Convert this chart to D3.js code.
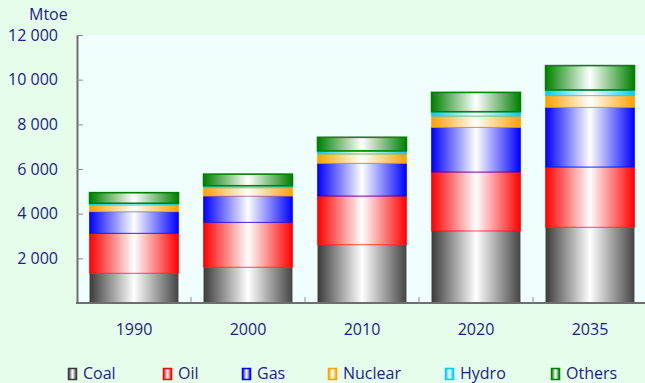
<!DOCTYPE html>
<html>
<head>
<meta charset="utf-8">
<script src="https://cdn.jsdelivr.net/npm/d3@7"></script>
<style>
  body { margin: 0; background: #e6fdeb; }
  svg { display: block; }
  text { font-family: "Open Sans", "DejaVu Sans", sans-serif; fill: #1c1c8a; }
</style>
</head>
<body>
<div id="chart"></div>
<script>
// data (Mtoe)
var years = ["1990", "2000", "2010", "2020", "2035"];
var coal    = [1330, 1600, 2610, 3225, 3390];
var oil     = [1790, 2010, 2180, 2640, 2700];
var gas     = [970, 1180, 1465, 2000, 2670];
var nuclear = [300, 370, 420, 505, 525];
var hydro   = [75, 90, 135, 195, 255];
var others  = [475, 520, 610, 865, 1090];
var yTicks = [2000, 4000, 6000, 8000, 10000, 12000];

var fuels = ["Coal", "Oil", "Gas", "Nuclear", "Hydro", "Others"];
var colors = ["#3a3a3a", "#ff0000", "#0000ff", "#ffa000", "#00ccff", "#008000"];

var width = 645, height = 383;
var margin = {top: 35, right: -2, bottom: 80, left: 77};

var svg = d3.select("#chart").append("svg")
  .attr("width", width)
  .attr("height", height);

var rows = years.map(function(y, i) {
  return {year: y, Coal: coal[i], Oil: oil[i], Gas: gas[i],
          Nuclear: nuclear[i], Hydro: hydro[i], Others: others[i]};
});

var stack = d3.stack().keys(fuels);
var series = stack(rows);

var x = d3.scaleBand()
  .domain(years)
  .range([margin.left, width - margin.right])
  .paddingInner(0.22)
  .paddingOuter(0.11);

var y = d3.scaleLinear()
  .domain([0, 12000])
  .range([height - margin.bottom, margin.top]);

// gradients: colour at the edges, white in the middle
var defs = svg.append("defs");
fuels.forEach(function(f, i) {
  var g = defs.append("linearGradient")
    .attr("id", "grad" + i)
    .attr("x1", "0%").attr("x2", "100%")
    .attr("y1", "0%").attr("y2", "0%");
  g.append("stop").attr("offset", "0%").attr("stop-color", colors[i]);
  g.append("stop").attr("offset", "50%").attr("stop-color", "#ffffff");
  g.append("stop").attr("offset", "100%").attr("stop-color", i == 0 ? "#444444" : colors[i]);
});

// plot area
svg.append("rect")
  .attr("x", margin.left)
  .attr("y", margin.top)
  .attr("width", width - margin.left + 5)
  .attr("height", y(0) - margin.top)
  .attr("fill", "#f0fffe");

// bars
svg.selectAll(".layer")
  .data(series)
  .enter()
  .append("g")
  .attr("class", "layer")
  .each(function(s, i) {
    d3.select(this).selectAll("rect")
      .data(s)
      .enter()
      .append("rect")
      .attr("x", d => x(d.data.year))
      .attr("width", x.bandwidth())
      .attr("y", d => y(d[1]))
      .attr("height", d => y(d[0]) - y(d[1]))
      .attr("fill", "url(#grad" + i + ")")
      .attr("stroke", i == 0 ? "none" : colors[i])
      .attr("stroke-opacity", i == 5 ? 1 : 0.7)
      .attr("stroke-width", i == 5 ? 1.6 : 1);
  });

// y axis
var yAxis = d3.axisLeft(y)
  .tickValues(yTicks)
  .tickSize(-6)
  .tickSizeOuter(0)
  .tickPadding(19)
  .tickFormat(d => d3.format(",")(d).replace(",", " "));

var gy = svg.append("g")
  .attr("transform", `translate(${margin.left},0)`)
  .call(yAxis);
gy.select(".domain").attr("stroke", "#6e6e6e").attr("stroke-width", 2);
gy.selectAll(".tick line").attr("stroke", "#8a8a8a");
gy.selectAll(".tick text")
  .style("font-size", "16px")
  .style("font-family", "'Open Sans', sans-serif")
  .attr("fill", "#1c1c8a");

// x axis line and band ticks
svg.append("line")
  .attr("x1", margin.left - 1)
  .attr("x2", width)
  .attr("y1", y(0))
  .attr("y2", y(0))
  .attr("stroke", "#6e6e6e")
  .attr("stroke-width", 2);

var step = x.step();
svg.selectAll(".xtick")
  .data(years.slice(1))
  .enter()
  .append("line")
  .attr("x1", (d, i) => margin.left + (i + 1) * step)
  .attr("x2", (d, i) => margin.left + (i + 1) * step)
  .attr("y1", y(0))
  .attr("y2", y(0) - 6)
  .attr("stroke", "#8a8a8a");

svg.selectAll(".xlabel")
  .data(years)
  .enter()
  .append("text")
  .attr("x", d => x(d) + x.bandwidth() / 2)
  .attr("y", 335)
  .attr("text-anchor", "middle")
  .style("font-size", "16px")
  .text(d => d);

// unit
svg.append("text")
  .attr("x", 29)
  .attr("y", 20)
  .style("font-size", "16px")
  .text("Mtoe");

// legend
var legendX = [68, 163, 242, 328, 445, 551];
fuels.forEach(function(f, i) {
  svg.append("rect")
    .attr("x", legendX[i] + 0.5)
    .attr("y", 368.5)
    .attr("width", 8)
    .attr("height", 11)
    .attr("fill", "url(#grad" + i + ")")
    .attr("stroke", colors[i])
    .attr("stroke-width", 1.5);
  svg.append("text")
    .attr("x", legendX[i] + 15)
    .attr("y", 379)
    .style("font-size", "16px")
    .text(f);
});
</script>
</body>
</html>
